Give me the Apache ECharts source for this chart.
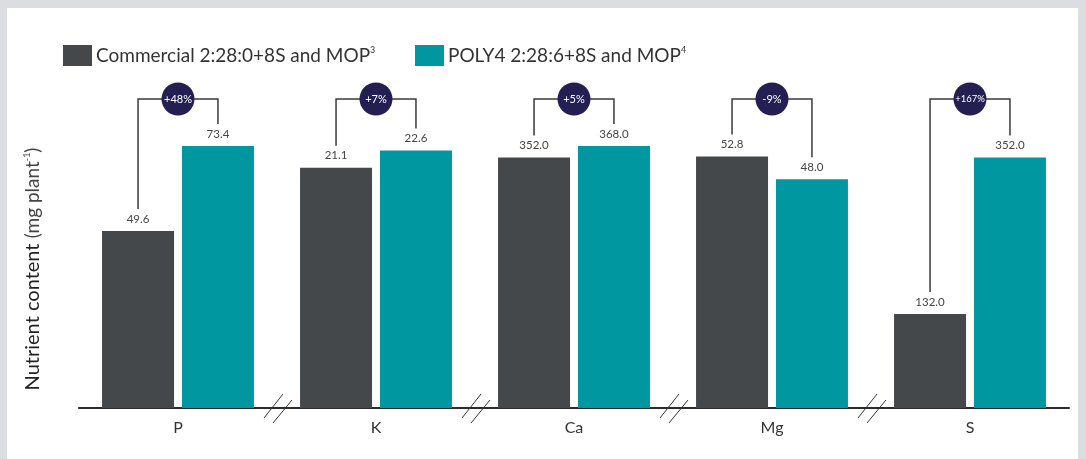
<!DOCTYPE html>
<html>
<head>
<meta charset="utf-8">
<script src="https://cdn.jsdelivr.net/npm/echarts@6/dist/echarts.min.js"></script>
<style>
  html, body { margin: 0; padding: 0; background: #dcdde0; }
  #panel { position: absolute; left: 7px; top: 8px; width: 1071px; height: 451px; background: #ffffff; }
  #chart { position: absolute; left: 0; top: 0; width: 1086px; height: 459px; }
</style>
</head>
<body>
<div id="panel"></div>
<div id="chart"></div>
<script>
// Nutrient content per plant, one broken-axis panel per nutrient
const categories = ['P', 'K', 'Ca', 'Mg', 'S'];
const commercial = [49.6, 21.1, 352.0, 52.8, 132.0];
const poly4 = [73.4, 22.6, 368.0, 48.0, 352.0];
const changeLabels = ['+48%', '+7%', '+5%', '-9%', '+167%'];
// each nutrient has its own value scale (axis breaks between panels)
const axisMax = [73.4, 23, 368, 55, 368];
const seriesNames = ['Commercial 2:28:0+8S and MOP', 'POLY4 2:28:6+8S and MOP'];
const footnotes = ['3', '4'];

const FONT = 'Lato, "Noto Sans", sans-serif';
const colors = ['#45484b', '#0097a0'];
const BAR_W = 72;
const BAR_GAP = '11%';
const PANEL_W = 198;
const PANEL_LEFT = 79;
const PLOT_TOP = 146;
const PLOT_H = 262;

const chart = echarts.init(document.getElementById('chart'), null, { renderer: 'canvas' });

const grids = [], xAxes = [], yAxes = [], series = [];
categories.forEach((cat, i) => {
  grids.push({ left: PANEL_LEFT + i * PANEL_W, top: PLOT_TOP, width: PANEL_W, height: PLOT_H });
  xAxes.push({
    gridIndex: i, type: 'category', data: [cat],
    axisLine: { lineStyle: { color: '#2b2b2b', width: 2 } },
    axisTick: { show: false },
    axisLabel: { color: '#333', fontSize: 16, margin: 12, fontFamily: FONT }
  });
  yAxes.push({ gridIndex: i, type: 'value', min: 0, max: axisMax[i], show: false });
  [commercial, poly4].forEach((vals, k) => {
    series.push({
      type: 'bar', name: seriesNames[k], xAxisIndex: i, yAxisIndex: i,
      data: [vals[i]], barWidth: BAR_W, barGap: BAR_GAP,
      itemStyle: { color: colors[k] },
      label: {
        show: true, position: 'top', distance: 6, color: '#444', fontSize: 11.5, fontFamily: FONT,
        formatter: p => p.value.toFixed(1)
      },
      emphasis: { disabled: true }
    });
  });
});

const legendRich = {
  t: { fontSize: 19, color: '#333', fontFamily: FONT },
  s: { fontSize: 9, color: '#333', fontFamily: FONT, verticalAlign: 'top', padding: [0, 0, 8, 0] }
};
const legends = seriesNames.map((name, k) => ({
  data: [name], left: k === 0 ? 63 : 415, top: 45, padding: 0,
  itemWidth: 29, itemHeight: 21, icon: 'rect',
  selectedMode: false,
  formatter: n => '{t|' + n + '}{s|' + footnotes[k] + '}',
  textStyle: { rich: legendRich, padding: [0, 0, 0, -1] }
}));

chart.setOption({
  animation: false,
  legend: legends,
  grid: grids,
  xAxis: xAxes,
  yAxis: yAxes,
  series: series
});

// comparison brackets, change badges, axis-break marks, axis title
const graphics = [];
const half = (BAR_W + BAR_W * 0.11) / 2;
const BRACKET_Y = 99;
categories.forEach((cat, i) => {
  const cx = chart.convertToPixel({ xAxisIndex: i }, cat);
  const xa = cx - half, xb = cx + half;
  const ya = chart.convertToPixel({ yAxisIndex: i }, commercial[i]) - 22;
  const yb = chart.convertToPixel({ yAxisIndex: i }, poly4[i]) - 22;
  graphics.push({
    type: 'polyline', z: 10,
    shape: { points: [[xa, ya], [xa, BRACKET_Y], [xb, BRACKET_Y], [xb, yb]] },
    style: { stroke: '#3a3a3a', lineWidth: 1.5, fill: null }
  });
  graphics.push({
    type: 'circle', z: 11,
    shape: { cx: (xa + xb) / 2, cy: BRACKET_Y, r: 16.5 },
    style: { fill: '#231f52' }
  });
  const badgeSize = changeLabels[i].length > 4 ? 9.5 : 11;
  graphics.push({
    type: 'text', z: 12, x: (xa + xb) / 2, y: BRACKET_Y,
    style: { text: changeLabels[i], fill: '#ffffff', font: badgeSize + 'px ' + FONT, textAlign: 'center', textVerticalAlign: 'middle' }
  });
  if (i > 0) {
    const bx = PANEL_LEFT + i * PANEL_W;
    [[-13, 418, 6, 394], [-4, 423, 15, 400]].forEach(s => {
      graphics.push({
        type: 'line', z: 10,
        shape: { x1: bx + s[0], y1: s[1], x2: bx + s[2], y2: s[3] },
        style: { stroke: '#333', lineWidth: 1 }
      });
    });
  }
});
graphics.push({
  type: 'text', x: 33, y: 269, rotation: Math.PI / 2,
  style: {
    text: '{a|Nutrient content }{b|(mg plant}{c|-1}{b|)}',
    textAlign: 'center', textVerticalAlign: 'middle',
    rich: {
      a: { fontSize: 20, fill: '#222', fontFamily: FONT },
      b: { fontSize: 19, fill: '#444', fontFamily: FONT },
      c: { fontSize: 9, fill: '#444', fontFamily: FONT, verticalAlign: 'top' }
    }
  }
});
chart.setOption({ graphic: graphics });
</script>
</body>
</html>
